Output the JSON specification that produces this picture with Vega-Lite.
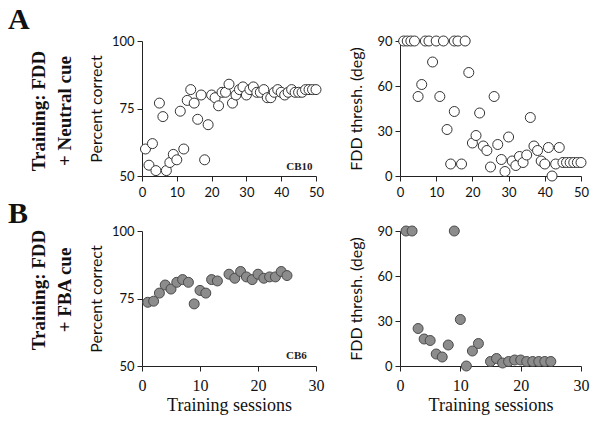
{
  "$schema": "https://vega.github.io/schema/vega-lite/v6.json",
  "background": "white",
  "padding": 5,
  "spacing": 0,
  "config": {
    "view": {"stroke": null},
    "axis": {
      "grid": false,
      "domainColor": "#222",
      "tickColor": "#222",
      "labelColor": "#111",
      "titleColor": "#111",
      "labelFont": "Lato",
      "titleFont": "Lato",
      "labelFontSize": 13,
      "titleFontSize": 16,
      "titleFontWeight": "normal",
      "tickSize": 5,
      "labelPadding": 3,
      "titlePadding": 7,
      "labelFlush": false,
      "labelOverlap": false
    }
  },
  "datasets": {
    "a1": [
      {"session": 1, "pct": 60}, {"session": 2, "pct": 54}, {"session": 3, "pct": 62}, {"session": 4, "pct": 52},
      {"session": 5, "pct": 77}, {"session": 6, "pct": 72}, {"session": 7, "pct": 52}, {"session": 8, "pct": 55},
      {"session": 9, "pct": 58}, {"session": 10, "pct": 56}, {"session": 11, "pct": 74}, {"session": 12, "pct": 60},
      {"session": 13, "pct": 78}, {"session": 14, "pct": 82}, {"session": 15, "pct": 77}, {"session": 16, "pct": 71},
      {"session": 17, "pct": 80}, {"session": 18, "pct": 56}, {"session": 19, "pct": 69}, {"session": 20, "pct": 80},
      {"session": 21, "pct": 79}, {"session": 22, "pct": 76}, {"session": 23, "pct": 81}, {"session": 24, "pct": 81},
      {"session": 25, "pct": 84}, {"session": 26, "pct": 77}, {"session": 27, "pct": 80}, {"session": 28, "pct": 82},
      {"session": 29, "pct": 83}, {"session": 30, "pct": 80}, {"session": 31, "pct": 82}, {"session": 32, "pct": 83},
      {"session": 33, "pct": 81}, {"session": 34, "pct": 81}, {"session": 35, "pct": 82}, {"session": 36, "pct": 79},
      {"session": 37, "pct": 79}, {"session": 38, "pct": 81}, {"session": 39, "pct": 82}, {"session": 40, "pct": 81},
      {"session": 41, "pct": 80}, {"session": 42, "pct": 81}, {"session": 43, "pct": 82}, {"session": 44, "pct": 81},
      {"session": 45, "pct": 81}, {"session": 46, "pct": 81}, {"session": 47, "pct": 82}, {"session": 48, "pct": 82},
      {"session": 49, "pct": 82}, {"session": 50, "pct": 82}
    ],
    "a2": [
      {"session": 1, "thr": 90}, {"session": 2, "thr": 90}, {"session": 3, "thr": 90}, {"session": 4, "thr": 90},
      {"session": 5, "thr": 53}, {"session": 6, "thr": 61}, {"session": 7, "thr": 90}, {"session": 8, "thr": 90},
      {"session": 9, "thr": 76}, {"session": 10, "thr": 90}, {"session": 11, "thr": 53}, {"session": 12, "thr": 90},
      {"session": 13, "thr": 31}, {"session": 14, "thr": 8}, {"session": 15, "thr": 43}, {"session": 15, "thr": 90},
      {"session": 16, "thr": 90}, {"session": 17, "thr": 8}, {"session": 18, "thr": 90}, {"session": 19, "thr": 69},
      {"session": 20, "thr": 22}, {"session": 21, "thr": 27}, {"session": 22, "thr": 42}, {"session": 23, "thr": 20},
      {"session": 24, "thr": 17}, {"session": 25, "thr": 6}, {"session": 26, "thr": 53}, {"session": 27, "thr": 21},
      {"session": 28, "thr": 11}, {"session": 29, "thr": 3}, {"session": 30, "thr": 26}, {"session": 31, "thr": 10},
      {"session": 32, "thr": 7}, {"session": 33, "thr": 13}, {"session": 34, "thr": 9}, {"session": 35, "thr": 14},
      {"session": 36, "thr": 39}, {"session": 37, "thr": 20}, {"session": 38, "thr": 17}, {"session": 39, "thr": 10},
      {"session": 40, "thr": 8}, {"session": 41, "thr": 19}, {"session": 42, "thr": 0}, {"session": 43, "thr": 8},
      {"session": 44, "thr": 19}, {"session": 45, "thr": 9}, {"session": 46, "thr": 9}, {"session": 47, "thr": 9},
      {"session": 48, "thr": 9}, {"session": 49, "thr": 9}, {"session": 50, "thr": 9}
    ],
    "b": [
      {"session": 1, "pct": 73.6, "thr": 90}, {"session": 2, "pct": 74, "thr": 90}, {"session": 3, "pct": 77, "thr": 25},
      {"session": 4, "pct": 80, "thr": 18}, {"session": 5, "pct": 78.5, "thr": 17}, {"session": 6, "pct": 81, "thr": 8},
      {"session": 7, "pct": 82, "thr": 6}, {"session": 8, "pct": 81, "thr": 14}, {"session": 9, "pct": 73, "thr": 90},
      {"session": 10, "pct": 78, "thr": 31}, {"session": 11, "pct": 77, "thr": 0}, {"session": 12, "pct": 82, "thr": 10},
      {"session": 13, "pct": 81.5, "thr": 15}, {"session": 15, "pct": 84, "thr": 3}, {"session": 16, "pct": 82.5, "thr": 5},
      {"session": 17, "pct": 85, "thr": 2}, {"session": 18, "pct": 83, "thr": 3}, {"session": 19, "pct": 82, "thr": 4},
      {"session": 20, "pct": 84, "thr": 4}, {"session": 21, "pct": 82.5, "thr": 3}, {"session": 22, "pct": 83, "thr": 3},
      {"session": 23, "pct": 83, "thr": 3}, {"session": 24, "pct": 85, "thr": 3}, {"session": 25, "pct": 83.5, "thr": 3}
    ]
  },
  "vconcat": [
    {
      "hconcat": [
        {
          "width": 53, "height": 135,
          "data": {"values": [
            {"t": "A", "px": 3, "py": 171, "kind": "letter"},
            {"t": "Training: FDD", "px": 34, "py": 65, "kind": "line"},
            {"t": "+ Neutral cue", "px": 60, "py": 65, "kind": "line"}
          ]},
          "layer": [
            {
              "transform": [{"filter": "datum.kind === 'letter'"}],
              "mark": {"type": "text", "align": "left", "baseline": "top", "font": "Liberation Serif", "fontWeight": "bold", "fontSize": 30, "color": "#111"},
              "encoding": {
                "x": {"field": "px", "type": "quantitative", "scale": {"domain": [0, 53], "nice": false}, "axis": null},
                "y": {"field": "py", "type": "quantitative", "scale": {"domain": [0, 135], "nice": false}, "axis": null},
                "text": {"field": "t"}
              }
            },
            {
              "transform": [{"filter": "datum.kind === 'line'"}],
              "mark": {"type": "text", "angle": 270, "align": "center", "baseline": "middle", "font": "Liberation Serif", "fontWeight": "bold", "fontSize": 19, "color": "#111"},
              "encoding": {
                "x": {"field": "px", "type": "quantitative", "scale": {"domain": [0, 53], "nice": false}, "axis": null},
                "y": {"field": "py", "type": "quantitative", "scale": {"domain": [0, 135], "nice": false}, "axis": null},
                "text": {"field": "t"}
              }
            }
          ]
        },
        {
          "width": 174, "height": 135,
          "layer": [
            {
              "data": {"name": "a1"},
              "mark": {"type": "point", "shape": "circle", "filled": true, "fill": "white", "stroke": "#333", "strokeWidth": 1, "size": 100, "opacity": 1, "clip": false},
              "encoding": {
                "x": {"field": "session", "type": "quantitative", "scale": {"domain": [0, 50], "nice": false}, "axis": {"values": [0, 10, 20, 30, 40, 50], "title": null, "labelPadding": 5, "labelOverlap": false}},
                "y": {"field": "pct", "type": "quantitative", "scale": {"domain": [50, 100], "nice": false, "zero": false}, "axis": {"values": [50, 75, 100], "title": "Percent correct", "labelOverlap": false}}
              }
            },
            {
              "data": {"values": [{"session": 49, "pct": 53.5, "label": "CB10"}]},
              "mark": {"type": "text", "align": "right", "baseline": "middle", "font": "Liberation Serif", "fontWeight": "bold", "fontSize": 11, "color": "#222"},
              "encoding": {
                "x": {"field": "session", "type": "quantitative", "axis": {"values": [0, 10, 20, 30, 40, 50], "title": null, "labelPadding": 5, "labelOverlap": false}},
                "y": {"field": "pct", "type": "quantitative", "axis": {"values": [50, 75, 100], "title": "Percent correct", "labelOverlap": false}},
                "text": {"field": "label"}
              }
            }
          ]
        },
        {
          "width": 181, "height": 135,
          "data": {"name": "a2"},
          "mark": {"type": "point", "shape": "circle", "filled": true, "fill": "white", "stroke": "#333", "strokeWidth": 1, "size": 100, "opacity": 1, "clip": false},
          "encoding": {
            "x": {"field": "session", "type": "quantitative", "scale": {"domain": [0, 50], "nice": false}, "axis": {"values": [0, 10, 20, 30, 40, 50], "title": null, "labelPadding": 5, "labelOverlap": false}},
            "y": {"field": "thr", "type": "quantitative", "scale": {"domain": [0, 90], "nice": false}, "axis": {"values": [0, 30, 60, 90], "title": "FDD thresh. (deg)", "titlePadding": 12, "labelOverlap": false}}
          }
        }
      ],
      "spacing": 84,
      "bounds": "flush"
    },
    {
      "hconcat": [
        {
          "width": 53, "height": 135,
          "data": {"values": [
            {"t": "B", "px": 3, "py": 167, "kind": "letter"},
            {"t": "Training: FDD", "px": 34, "py": 76, "kind": "line"},
            {"t": "+ FBA cue", "px": 60, "py": 76, "kind": "line"}
          ]},
          "layer": [
            {
              "transform": [{"filter": "datum.kind === 'letter'"}],
              "mark": {"type": "text", "align": "left", "baseline": "top", "font": "Liberation Serif", "fontWeight": "bold", "fontSize": 30, "color": "#111"},
              "encoding": {
                "x": {"field": "px", "type": "quantitative", "scale": {"domain": [0, 53], "nice": false}, "axis": null},
                "y": {"field": "py", "type": "quantitative", "scale": {"domain": [0, 135], "nice": false}, "axis": null},
                "text": {"field": "t"}
              }
            },
            {
              "transform": [{"filter": "datum.kind === 'line'"}],
              "mark": {"type": "text", "angle": 270, "align": "center", "baseline": "middle", "font": "Liberation Serif", "fontWeight": "bold", "fontSize": 19, "color": "#111"},
              "encoding": {
                "x": {"field": "px", "type": "quantitative", "scale": {"domain": [0, 53], "nice": false}, "axis": null},
                "y": {"field": "py", "type": "quantitative", "scale": {"domain": [0, 135], "nice": false}, "axis": null},
                "text": {"field": "t"}
              }
            }
          ]
        },
        {
          "width": 174, "height": 135,
          "layer": [
            {
              "data": {"name": "b"},
              "mark": {"type": "point", "shape": "circle", "filled": true, "fill": "#8c8c8c", "stroke": "#4a4a4a", "strokeWidth": 1, "size": 100, "opacity": 1, "clip": false},
              "encoding": {
                "x": {"field": "session", "type": "quantitative", "scale": {"domain": [0, 30], "nice": false}, "axis": {"values": [0, 10, 20, 30], "title": "Training sessions", "labelFont": "Liberation Serif", "labelFontSize": 16, "labelPadding": 6, "titleFont": "Liberation Serif", "titleFontSize": 18, "titlePadding": 3, "labelOverlap": false}},
                "y": {"field": "pct", "type": "quantitative", "scale": {"domain": [50, 100], "nice": false, "zero": false}, "axis": {"values": [50, 75, 100], "title": "Percent correct", "labelOverlap": false}}
              }
            },
            {
              "data": {"values": [{"session": 28.4, "pct": 53.7, "label": "CB6"}]},
              "mark": {"type": "text", "align": "right", "baseline": "middle", "font": "Liberation Serif", "fontWeight": "bold", "fontSize": 11, "color": "#222"},
              "encoding": {
                "x": {"field": "session", "type": "quantitative", "axis": {"values": [0, 10, 20, 30], "title": "Training sessions", "labelFont": "Liberation Serif", "labelFontSize": 16, "labelPadding": 6, "titleFont": "Liberation Serif", "titleFontSize": 18, "titlePadding": 3, "labelOverlap": false}},
                "y": {"field": "pct", "type": "quantitative", "axis": {"values": [50, 75, 100], "title": "Percent correct", "labelOverlap": false}},
                "text": {"field": "label"}
              }
            }
          ]
        },
        {
          "width": 181, "height": 135,
          "data": {"name": "b"},
          "mark": {"type": "point", "shape": "circle", "filled": true, "fill": "#8c8c8c", "stroke": "#4a4a4a", "strokeWidth": 1, "size": 100, "opacity": 1, "clip": false},
          "encoding": {
            "x": {"field": "session", "type": "quantitative", "scale": {"domain": [0, 30], "nice": false}, "axis": {"values": [0, 10, 20, 30], "title": "Training sessions", "labelFont": "Liberation Serif", "labelFontSize": 16, "labelPadding": 6, "titleFont": "Liberation Serif", "titleFontSize": 18, "titlePadding": 3, "labelOverlap": false}},
            "y": {"field": "thr", "type": "quantitative", "scale": {"domain": [0, 90], "nice": false}, "axis": {"values": [0, 30, 60, 90], "title": "FDD thresh. (deg)", "titlePadding": 12, "labelOverlap": false}}
          }
        }
      ],
      "spacing": 84,
      "bounds": "flush"
    }
  ]
}
